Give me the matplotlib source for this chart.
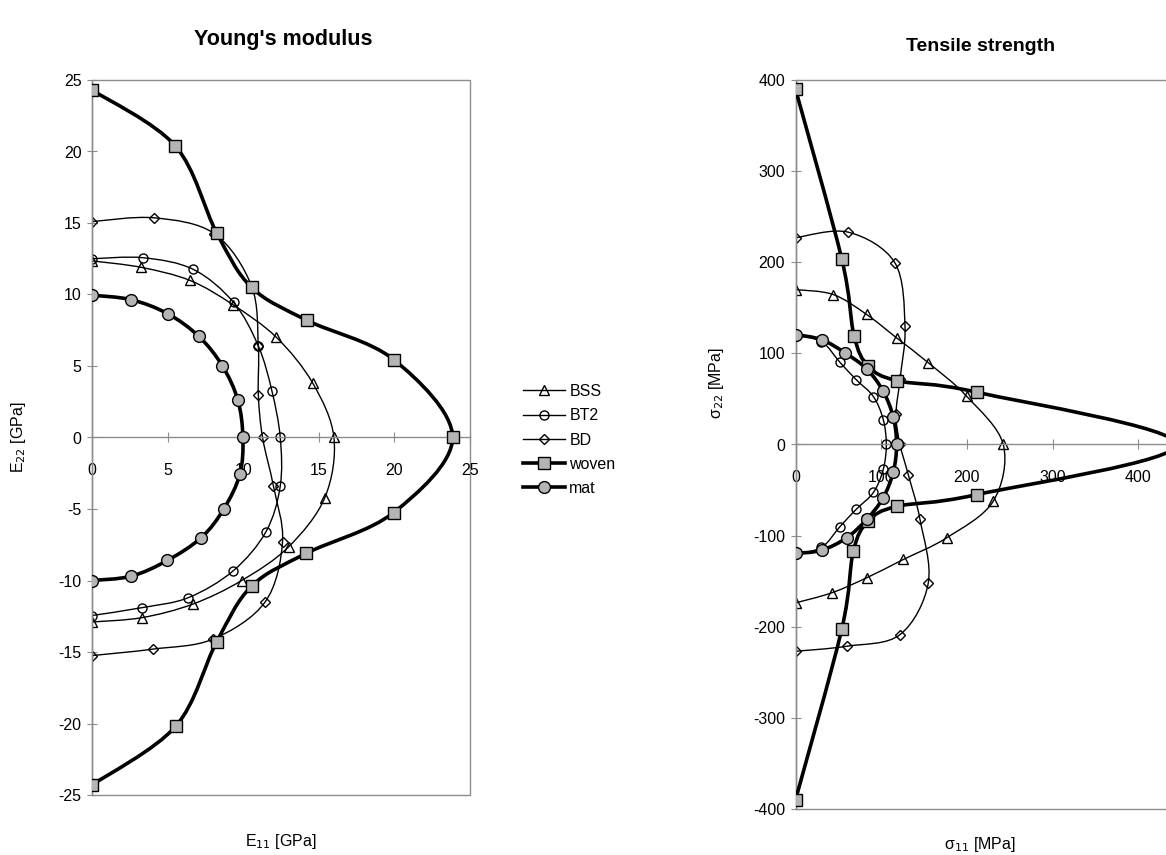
import numpy as np
import matplotlib
matplotlib.use("Agg")
import matplotlib.pyplot as plt
from matplotlib.path import Path
from matplotlib.patches import PathPatch, Rectangle
from matplotlib.lines import Line2D

plt.rcParams['font.family'] = ['Liberation Sans', 'DejaVu Sans']
plt.rcParams['axes.unicode_minus'] = False

# points from 90 deg down to -90 deg, every 15 deg
# Young's modulus [GPa]
bss_E11 = [0, 3.25, 6.49, 9.3, 12.2, 14.6, 16.0, 15.4, 13.0, 9.9, 6.67, 3.29, 0]
bss_E22 = [12.35, 11.9, 10.98, 9.3, 7.0, 3.8, 0, -4.2, -7.65, -10.0, -11.65, -12.6, -12.9]
bt2_E11 = [0, 3.4, 6.71, 9.36, 11.0, 11.9, 12.45, 12.45, 11.5, 9.33, 6.37, 3.3, 0]
bt2_E22 = [12.5, 12.57, 11.75, 9.45, 6.4, 3.25, 0, -3.4, -6.6, -9.33, -11.2, -11.9, -12.45]
bd_E11 = [0, 4.13, 8.1, 10.55, 11.0, 11.0, 11.28, 12.0, 12.6, 11.45, 8.0, 4.02, 0]
bd_E22 = [15.1, 15.36, 14.25, 10.6, 6.4, 3.0, 0, -3.4, -7.3, -11.5, -14.1, -14.8, -15.25]
woven_E11 = [0, 5.5, 8.25, 10.55, 14.2, 19.95, 23.85, 19.95, 14.17, 10.55, 8.24, 5.53, 0]
woven_E22 = [24.3, 20.4, 14.3, 10.5, 8.2, 5.45, 0, -5.25, -8.1, -10.4, -14.3, -20.2, -24.3]
mat_E11 = [0, 2.58, 5.0, 7.07, 8.63, 9.65, 9.98, 9.78, 8.72, 7.23, 4.98, 2.59, 0]
mat_E22 = [9.95, 9.64, 8.66, 7.07, 5.0, 2.6, 0, -2.57, -4.99, -7.0, -8.6, -9.7, -10.0]

# Tensile strength [MPa]
bss_S11 = [0, 44, 83, 118, 155, 199.7, 242.5, 230.8, 176.4, 125.8, 83, 42.2, 0]
bss_S22 = [170, 164.6, 142.7, 117, 89.7, 53, 0, -62.2, -102.4, -126.2, -146.3, -162.8, -173.8]
bt2_S11 = [0, 30.3, 52, 71, 91, 102.4, 106, 102.4, 91, 71, 52, 30.3, 0]
bt2_S22 = [120, 113, 90, 71, 52.5, 27.4, 0, -27.4, -52.5, -71, -90, -113, -120]
bd_S11 = [0, 61.6, 116, 127.8, 122, 117.3, 122, 131.6, 145.3, 155, 122, 59.7, 0]
bd_S22 = [226.9, 233, 199.4, 129.9, 72, 33, 0, -33, -82.3, -151.8, -208.6, -221.4, -226.9]
woven_S11 = [0, 53.9, 68.3, 85, 118.8, 211.4, 445, 211.4, 118, 85, 67.5, 53.9, 0]
woven_S22 = [390, 204, 119.6, 86, 70, 57.4, 0, -55, -68, -84, -117, -203, -390]
mat_S11 = [0, 30.5, 57.8, 83, 102, 114, 118, 114, 102, 83, 59.7, 30.5, 0]
mat_S22 = [120.7, 115, 100.6, 83, 59, 30.5, 0, -30.5, -59, -82.3, -102.4, -116, -119.6]

names = ['BSS', 'BT2', 'BD', 'woven', 'mat']

styles = {
    'BSS':   dict(marker='^', ms=7, mfc='none', lw=1.0),
    'BT2':   dict(marker='o', ms=6.5, mfc='none', lw=1.0),
    'BD':    dict(marker='D', ms=5, mfc='none', lw=1.0),
    'woven': dict(marker='s', ms=8.5, mfc='#b4b4b4', lw=2.6),
    'mat':   dict(marker='o', ms=8.5, mfc='#b4b4b4', lw=2.6),
}
GRAY = '#8c8c8c'


def smooth(x, y):
    # excel-like smoothed line through the points
    p = np.column_stack([x, y]).astype(float)
    n = len(p)
    verts = [p[0]]
    codes = [Path.MOVETO]
    for i in range(n - 1):
        p0 = p[max(i - 1, 0)]
        p1 = p[i]
        p2 = p[i + 1]
        p3 = p[min(i + 2, n - 1)]
        verts += [p1 + (p2 - p0) / 6, p2 - (p3 - p1) / 6, p2]
        codes += [Path.CURVE4] * 3
    return Path(verts, codes)


def draw(ax, x, y, name):
    st = styles[name]
    z = 3 if st['lw'] > 2 else 2
    ax.add_patch(PathPatch(smooth(x, y), fill=False, ec='black', lw=st['lw'], zorder=z))
    ax.plot(x, y, ls='none', marker=st['marker'], ms=st['ms'], mfc=st['mfc'],
            mec='black', mew=1.0, zorder=z + 0.5)


def setup(ax, xmax, ylim, xticks, yticks):
    ax.set_xlim(0, xmax)
    ax.set_ylim(*ylim)
    ax.spines['bottom'].set_position(('data', 0))
    ax.spines['top'].set_visible(False)
    ax.spines['right'].set_visible(False)
    for s in ['left', 'bottom']:
        ax.spines[s].set_color(GRAY)
        ax.spines[s].set_linewidth(1.0)
    ax.add_patch(Rectangle((0, 0), 1, 1, transform=ax.transAxes, fill=False,
                           ec=GRAY, lw=1.0, clip_on=False, zorder=1))
    ax.set_xticks(xticks)
    ax.set_yticks(yticks)
    ax.tick_params(axis='both', direction='inout', length=7, color=GRAY,
                   labelsize=11.5)
    ax.tick_params(axis='x', pad=15)
    ax.tick_params(axis='y', pad=4)


fig = plt.figure(figsize=(11.66, 8.55), dpi=100)

ax1 = fig.add_axes([92 / 1166, 1 - 795 / 855, 378 / 1166, 715 / 855])
ax2 = fig.add_axes([795.5 / 1166, 1 - 809 / 855, 377 / 1166, 729 / 855])

E = {'BSS': (bss_E11, bss_E22), 'BT2': (bt2_E11, bt2_E22), 'BD': (bd_E11, bd_E22),
     'woven': (woven_E11, woven_E22), 'mat': (mat_E11, mat_E22)}
S = {'BSS': (bss_S11, bss_S22), 'BT2': (bt2_S11, bt2_S22), 'BD': (bd_S11, bd_S22),
     'woven': (woven_S11, woven_S22), 'mat': (mat_S11, mat_S22)}

for nm in names:
    draw(ax1, E[nm][0], E[nm][1], nm)
    draw(ax2, S[nm][0], S[nm][1], nm)

setup(ax1, 25, (-25, 25), np.arange(0, 26, 5), np.arange(-25, 26, 5))
setup(ax2, 440, (-400, 400), np.arange(0, 401, 100), np.arange(-400, 401, 100))

ax1.set_title("Young's modulus", fontsize=15.5, fontweight='bold', pad=25)
ax1.title.set_x(0.505)
ax2.set_title("Tensile strength", fontsize=14, fontweight='bold', pad=21)
ax2.title.set_x(0.49)

ax1.set_ylabel('E$_{22}$ [GPa]', fontsize=11.5)
ax1.yaxis.set_label_coords(-0.17, 0.5)
ax1.set_xlabel('E$_{11}$ [GPa]', fontsize=11.5)
ax1.xaxis.set_label_coords(0.5, -0.052)
ax2.set_ylabel('σ$_{22}$ [MPa]', fontsize=11.5)
ax2.yaxis.set_label_coords(-0.185, 0.584)
ax2.set_xlabel('σ$_{11}$ [MPa]', fontsize=11.5)
ax2.xaxis.set_label_coords(0.489, -0.036)

handles = []
for nm in names:
    st = styles[nm]
    handles.append(Line2D([], [], color='black', lw=st['lw'], marker=st['marker'],
                          ms=st['ms'], mfc=st['mfc'], mec='black', mew=1.0))
fig.legend(handles, names, loc='center left', bbox_to_anchor=(515 / 1166, 1 - 440 / 855),
           frameon=False, fontsize=11.5, handlelength=2.6, handletextpad=0.3,
           labelspacing=0.58, borderpad=0)

fig.savefig('out.png', dpi=100)
